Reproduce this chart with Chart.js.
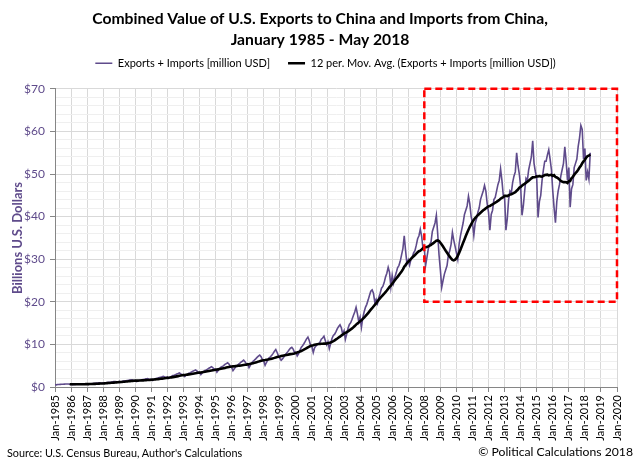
<!DOCTYPE html>
<html>
<head>
<meta charset="utf-8">
<script src="https://cdn.jsdelivr.net/npm/chart.js@4/dist/chart.umd.min.js"></script>
<style>
  html, body { margin:0; padding:0; background:#fff; }
  #wrap { position:relative; width:640px; height:465px; overflow:hidden; }
  canvas { position:absolute; left:0; top:0; }
  .foot { position:absolute; font-family: Lato, "Open Sans", sans-serif; color:#000; white-space:nowrap; }
</style>
</head>
<body>
<div id="wrap">
  <canvas id="c" width="640" height="465"></canvas>
  <div class="foot" id="src" style="left:7px; top:446px; font-size:10.8px;">Source: U.S. Census Bureau, Author's Calculations</div>
  <div class="foot" id="copy" style="right:7px; top:444px; font-size:12.2px;">© Political Calculations 2018</div>
</div>
<script>
// Monthly combined value of U.S. exports to China + imports from China, billions USD (Jan..Dec)
const v1985 = [0.55,0.50,0.58,0.60,0.62,0.64,0.66,0.68,0.70,0.72,0.70,0.66];
const v1986 = [0.62,0.52,0.58,0.62,0.65,0.66,0.70,0.72,0.74,0.76,0.72,0.68];
const v1987 = [0.72,0.62,0.70,0.76,0.80,0.82,0.86,0.90,0.92,0.96,0.92,0.86];
const v1988 = [0.95,0.85,0.98,1.04,1.10,1.12,1.16,1.22,1.26,1.30,1.24,1.15];
const v1989 = [1.30,1.12,1.28,1.38,1.45,1.48,1.54,1.60,1.65,1.70,1.62,1.52];
const v1990 = [1.50,1.25,1.38,1.52,1.62,1.67,1.76,1.84,1.90,1.98,1.88,1.72];
const v1991 = [1.85,1.55,1.75,1.92,2.05,2.10,2.20,2.30,2.38,2.48,2.35,2.20];
const v1992 = [2.35,2.00,2.25,2.50,2.68,2.76,2.90,3.05,3.15,3.30,3.10,2.85];
const v1993 = [2.90,2.45,2.75,3.05,3.25,3.36,3.52,3.70,3.85,4.00,3.78,3.45];
const v1994 = [3.45,2.90,3.30,3.62,3.88,4.00,4.18,4.40,4.58,4.78,4.52,4.10];
const v1995 = [4.20,3.50,3.95,4.35,4.65,4.80,5.00,5.30,5.50,5.70,5.40,4.90];
const v1996 = [4.60,3.85,4.30,4.75,5.10,5.30,5.55,5.85,6.05,6.30,5.95,5.40];
const v1997 = [5.40,4.55,5.10,5.65,6.05,6.30,6.60,6.95,7.25,7.50,7.10,6.45];
const v1998 = [6.10,5.10,5.75,6.35,6.85,7.10,7.45,7.90,8.40,8.80,8.10,7.30];
const v1999 = [6.75,6.30,6.60,7.05,7.60,7.90,8.30,8.75,9.10,9.30,8.90,8.10];
const v2000 = [8.20,7.30,7.80,8.60,9.30,9.70,10.15,10.70,11.30,11.70,10.90,9.75];
const v2001 = [9.50,8.10,9.20,9.60,10.00,10.10,10.50,11.20,11.50,11.90,10.90,9.90];
const v2002 = [10.60,9.00,10.20,11.40,12.10,12.40,13.00,13.70,14.20,14.60,13.90,12.40];
const v2003 = [13.20,11.20,12.40,13.80,14.70,15.10,15.90,16.80,17.60,18.70,17.20,15.30];
const v2004 = [16.40,14.00,16.20,17.60,18.70,19.40,20.40,21.50,22.50,22.80,22.00,19.90];
const v2005 = [20.60,19.60,21.00,22.00,23.20,23.60,24.50,25.80,26.70,28.10,26.90,23.50];
const v2006 = [26.20,24.40,25.80,26.80,28.00,28.50,29.50,31.00,32.50,35.50,32.00,28.90];
const v2007 = [29.80,28.60,30.00,30.50,31.50,32.00,33.30,34.80,35.50,37.00,35.40,32.50];
const v2008 = [32.50,28.60,30.50,32.50,33.50,34.00,36.50,37.50,38.50,40.30,36.00,31.00];
const v2009 = [27.50,23.40,25.00,26.50,27.50,28.50,31.00,32.00,33.50,36.30,34.50,33.00];
const v2010 = [31.50,30.00,33.50,35.50,37.00,38.50,40.50,41.50,42.50,44.80,43.00,40.00];
const v2011 = [38.50,35.60,38.50,39.50,41.00,42.00,44.00,45.00,46.00,47.30,46.00,43.00];
const v2012 = [41.00,36.80,40.50,41.50,44.00,44.50,46.00,47.50,48.50,51.20,48.50,45.00];
const v2013 = [44.50,36.80,39.50,44.00,46.00,45.50,48.00,49.50,50.50,55.00,52.00,50.00];
const v2014 = [47.00,40.30,42.50,46.00,49.00,48.50,51.00,52.50,54.00,57.80,52.50,50.50];
const v2015 = [49.00,39.80,43.50,45.00,48.50,51.00,53.00,53.00,54.50,55.70,53.50,51.00];
const v2016 = [46.00,42.00,38.60,43.50,46.00,47.50,49.50,51.00,52.50,56.40,53.00,48.50];
const v2017 = [51.50,42.20,46.50,47.50,51.50,52.50,53.50,56.50,58.50,61.40,60.50,53.50];
const v2018 = [56.00,48.50,50.50,48.80,55.00];

const yearlyValues = [v1985,v1986,v1987,v1988,v1989,v1990,v1991,v1992,v1993,v1994,v1995,v1996,
  v1997,v1998,v1999,v2000,v2001,v2002,v2003,v2004,v2005,v2006,v2007,v2008,v2009,v2010,v2011,
  v2012,v2013,v2014,v2015,v2016,v2017,v2018];

const xTickLabels = ['Jan-1985','Jan-1986','Jan-1987','Jan-1988','Jan-1989','Jan-1990','Jan-1991',
  'Jan-1992','Jan-1993','Jan-1994','Jan-1995','Jan-1996','Jan-1997','Jan-1998','Jan-1999','Jan-2000',
  'Jan-2001','Jan-2002','Jan-2003','Jan-2004','Jan-2005','Jan-2006','Jan-2007','Jan-2008','Jan-2009',
  'Jan-2010','Jan-2011','Jan-2012','Jan-2013','Jan-2014','Jan-2015','Jan-2016','Jan-2017','Jan-2018',
  'Jan-2019','Jan-2020'];

const seriesNames = ['Exports + Imports [million USD]', '12 per. Mov. Avg. (Exports + Imports [million USD])'];
const highlightFrom = 'Jan-2008', highlightTo = 'Jan-2020';
const highlightLow = 20, highlightHigh = 70;

// build monthly points (x = month index since Jan-1985)
const monthly = [].concat(...yearlyValues);
const rawPoints = monthly.map((v, i) => ({ x: i, y: v }));
const maPoints = [];
for (let i = 11; i < monthly.length; i++) {
  let s = 0;
  for (let k = i - 11; k <= i; k++) s += monthly[k];
  maPoints.push({ x: i, y: s / 12 });
}

const PURPLE = '#5f4b8b';
const FONT = 'Lato, "Open Sans", sans-serif';

const boxPlugin = {
  id: 'highlightBox',
  afterDatasetsDraw(chart) {
    const xs = chart.scales.x, ys = chart.scales.y, ctx = chart.ctx;
    const x0 = xs.getPixelForValue(xTickLabels.indexOf(highlightFrom) * 12);
    const x1 = xs.getPixelForValue(xTickLabels.indexOf(highlightTo) * 12);
    const y0 = ys.getPixelForValue(highlightHigh);
    const y1 = ys.getPixelForValue(highlightLow);
    ctx.save();
    ctx.strokeStyle = '#ff0000';
    ctx.lineWidth = 2.5;
    ctx.setLineDash([7, 4]);
    ctx.strokeRect(x0, y0, x1 - x0, y1 - y0);
    ctx.restore();
  }
};

// fine placement of title and legend blocks
const placePlugin = {
  id: 'place',
  beforeLayout(chart) {
    const lg = chart.legend;
    if (lg && !lg._patched) {
      const f = lg.fit;
      lg.fit = function () { f.call(this); this.height -= 6; };
      lg._patched = true;
    }
  },
  afterLayout(chart) {
    const t = chart.titleBlock, lg = chart.legend;
    if (t) { t.left += 11.5; t.right += 11.5; }
    if (lg) { lg.left += 17; lg.right += 17; lg.top -= 16; }
  }
};

new Chart(document.getElementById('c'), {
  type: 'line',
  data: {
    datasets: [
      { label: seriesNames[0], data: rawPoints, borderColor: PURPLE, backgroundColor: PURPLE,
        borderWidth: 1.6, pointRadius: 0, tension: 0, order: 1 },
      { label: seriesNames[1], data: maPoints, borderColor: '#000000', backgroundColor: '#000000',
        borderWidth: 2.6, pointRadius: 0, tension: 0, order: 0 }
    ]
  },
  options: {
    responsive: false,
    animation: false,
    events: [],
    layout: { padding: { left: 0, right: 23, top: 5, bottom: 0 } },
    plugins: {
      tooltip: { enabled: false },
      title: {
        display: true,
        text: ['Combined Value of U.S. Exports to China and Imports from China,', 'January 1985 - May 2018'],
        color: '#000',
        font: { family: FONT, size: 15.7, weight: 'bold', lineHeight: 1.3 },
        padding: { top: 4, bottom: 6 }
      },
      legend: {
        display: true,
        position: 'top',
        labels: {
          color: '#000',
          font: { family: FONT, size: 11 },
          usePointStyle: true,
          pointStyle: 'line',
          pointStyleWidth: 17,
          padding: 18,
          sort: (a, b) => a.datasetIndex - b.datasetIndex
        }
      }
    },
    scales: {
      x: {
        type: 'linear',
        min: 0, max: 420,
        afterFit(s) { s.height = 465 - 387; },
        ticks: {
          stepSize: 12, autoSkip: false, maxRotation: 90, minRotation: 90,
          color: '#000', font: { family: FONT, size: 11 }, padding: 3,
          callback: (v) => xTickLabels[Math.round(v / 12)]
        },
        grid: { color: '#d9d9d9', lineWidth: 1, drawTicks: true, tickLength: 5, tickColor: '#868686' },
        border: { color: '#868686', width: 1 }
      },
      y: {
        min: 0, max: 70,
        afterFit(s) { s.width = 55; },
        ticks: {
          stepSize: 2, autoSkip: false, color: PURPLE, font: { family: FONT, size: 12 }, padding: 5,
          callback: (v) => (v % 10 === 0 ? '$' + v : '')
        },
        grid: {
          color: (ctx) => (ctx.tick && ctx.tick.value % 10 === 0 ? '#d9d9d9' : '#efefef'),
          tickColor: (ctx) => (ctx.tick && ctx.tick.value % 10 === 0 ? '#868686' : 'rgba(0,0,0,0)'),
          drawTicks: true, tickLength: 5
        },
        border: { color: '#868686', width: 1 },
        title: {
          display: true, text: 'Billions U.S. Dollars', color: PURPLE,
          font: { family: FONT, size: 13, weight: 'bold' }, padding: { top: 10, bottom: 0 }
        }
      }
    }
  },
  plugins: [boxPlugin, placePlugin]
});
</script>
</body>
</html>
